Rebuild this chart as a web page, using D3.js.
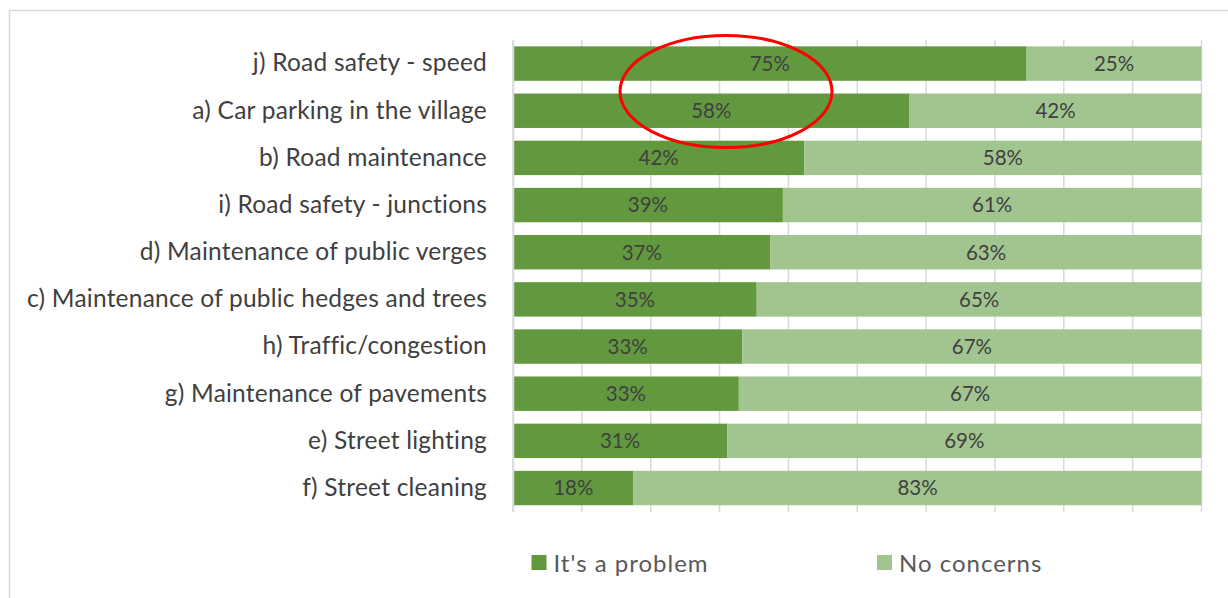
<!DOCTYPE html>
<html>
<head>
<meta charset="utf-8">
<script src="https://cdn.jsdelivr.net/npm/d3@7"></script>
<style>
  body { margin: 0; background: #fff; }
  svg { display: block; font-family: Lato, "Open Sans", sans-serif; }
</style>
</head>
<body>
<div id="chart"></div>
<script>
// Categories, top to bottom
const categories = [
  "j) Road safety - speed",
  "a) Car parking in the village",
  "b) Road maintenance",
  "i) Road safety - junctions",
  "d) Maintenance of public verges",
  "c) Maintenance of public hedges and trees",
  "h) Traffic/congestion",
  "g) Maintenance of pavements",
  "e) Street lighting",
  "f) Street cleaning"
]
// percentages
const problem = [74.6, 57.6, 42.3, 39.2, 37.4, 35.4, 33.3, 32.8, 31.1, 17.5]
const noConcerns = [25.4, 42.4, 57.7, 60.8, 62.6, 64.6, 66.7, 67.2, 68.9, 82.5]
const seriesNames = ["It's a problem", "No concerns"]
const xTicks = [0, 10, 20, 30, 40, 50, 60, 70, 80, 90, 100]

const width = 1228, height = 598
const colors = ["#62983e", "#a2c590"]

const svg = d3.select("#chart").append("svg")
  .attr("width", width)
  .attr("height", height)

// chart frame (cut off on the right and bottom)
svg.append("rect")
  .attr("x", 9.5).attr("y", 10.5)
  .attr("width", 1300).attr("height", 700)
  .attr("fill", "none")
  .attr("stroke", "#d9d9d9")
  .attr("stroke-width", 1.5)

const x = d3.scaleLinear().domain([0, 100]).range([513, 1201.5])
const y = d3.scaleBand().domain(categories).range([40, 511.6]).paddingInner(0.27).paddingOuter(0.135)

// gridlines
svg.append("g")
  .selectAll("line")
  .data(xTicks)
  .join("line")
  .attr("x1", d => x(d)).attr("x2", d => x(d))
  .attr("y1", 40).attr("y2", 512)
  .attr("stroke", "#d9d9d9")
  .attr("stroke-width", 1.5)

// stack the two series
const rows = categories.map((c, i) => ({ cat: c, p: problem[i], n: noConcerns[i] }))
const stack = d3.stack().keys(["p", "n"])(rows)

const groups = svg.append("g")
  .selectAll("g")
  .data(stack)
  .join("g")
  .attr("fill", (d, i) => colors[i])

groups.selectAll("rect")
  .data(d => d)
  .join("rect")
  .attr("x", d => x(d[0]))
  .attr("y", d => y(d.data.cat))
  .attr("width", d => x(d[1]) - x(d[0]))
  .attr("height", y.bandwidth())

// data labels
groups.selectAll("text")
  .data(d => d)
  .join("text")
  .attr("x", d => (x(d[0]) + x(d[1])) / 2)
  .attr("y", d => y(d.data.cat) + y.bandwidth() / 2)
  .attr("dy", "0.36em")
  .attr("text-anchor", "middle")
  .attr("fill", "#404040")
  .attr("font-size", 20.5)
  .text(d => Math.round(d[1] - d[0]) + "%")

// category axis
const yAxis = svg.append("g")
  .attr("transform", "translate(513,0)")
  .call(d3.axisLeft(y).tickSize(0).tickPadding(26))
yAxis.select(".domain").attr("stroke", "#d9d9d9").attr("stroke-width", 1.5)
yAxis.selectAll("text")
  .attr("font-size", 24.5)
  .attr("letter-spacing", 0.22)
  .attr("font-family", "Lato, sans-serif")
  .attr("fill", "#404040")

// highlight ellipse
svg.append("ellipse")
  .attr("cx", 726).attr("cy", 91.5)
  .attr("rx", 106).attr("ry", 56)
  .attr("fill", "none")
  .attr("stroke", "#ff0000")
  .attr("stroke-width", 3)

// legend
const legend = svg.append("g")
  .selectAll("g")
  .data(seriesNames)
  .join("g")
  .attr("transform", (d, i) => `translate(${[531.5, 877][i]},555)`)
legend.append("rect")
  .attr("width", 15).attr("height", 15)
  .attr("fill", (d, i) => colors[i])
legend.append("text")
  .attr("x", 22).attr("y", 8)
  .attr("dy", "0.36em")
  .attr("font-size", 24)
  .attr("letter-spacing", 1)
  .attr("fill", "#595959")
  .text(d => d)
</script>
</body>
</html>
